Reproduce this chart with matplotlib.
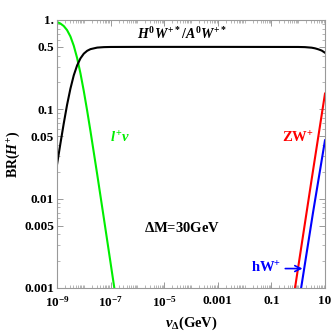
import matplotlib
matplotlib.use("Agg")
import matplotlib.pyplot as plt
from matplotlib.ticker import FixedLocator, LogLocator, NullFormatter

plt.rcParams['font.family'] = 'Liberation Serif'
plt.rcParams['font.weight'] = 'bold'
plt.rcParams['axes.labelweight'] = 'bold'
plt.rcParams['mathtext.fontset'] = 'custom'
plt.rcParams['mathtext.rm'] = 'Liberation Serif:bold'
plt.rcParams['mathtext.bf'] = 'Liberation Serif:bold'
plt.rcParams['mathtext.it'] = 'Liberation Serif:italic:bold'

# l+ nu branching ratio
v_lnu = [1e-9, 10**-8.875, 10**-8.75, 10**-8.625, 10**-8.5, 10**-8.375, 10**-8.25, 10**-8.125, 10**-8,
         10**-7.875, 10**-7.75, 10**-7.625, 10**-7.5, 10**-7.25, 10**-7, 10**-6.85]
br_lnu = [0.95, 0.914, 0.857, 0.771, 0.655, 0.516, 0.376, 0.253, 0.160,
          0.0967, 0.0567, 0.0326, 0.0187, 0.00599, 0.0019, 0.00095]

# H0 W+* / A0 W+*
v_hw = [1e-9, 10**-8.875, 10**-8.75, 10**-8.625, 10**-8.5, 10**-8.375, 10**-8.25, 10**-8.125, 10**-8,
        10**-7.875, 10**-7.75, 10**-7.5, 10**-7.25, 10**-7, 1e-6, 1e-3, 1.0,
        10**0.25, 10**0.5, 10**0.625, 10**0.75, 10**0.875, 10.0]
br_hw = [0.024, 0.041, 0.069, 0.112, 0.170, 0.240, 0.310, 0.372, 0.420,
         0.452, 0.472, 0.491, 0.497, 0.499, 0.5, 0.5, 0.499,
         0.497, 0.49, 0.482, 0.47, 0.455, 0.43]

# Z W+
v_zw = [10**-0.15, 10**0.5, 10.0]
br_zw = [0.00087, 0.0163, 0.15]

# h W+
v_hwp = [10**0.08, 10**0.55, 10.0]
br_hwp = [0.00088, 0.0069, 0.045]

yticks = [0.001, 0.005, 0.01, 0.05, 0.1, 0.5, 1.0]
ylabels = ['0.001', '0.005', '0.01', '0.05', '0.1', '0.5', '1.']
xticks = [1e-9, 1e-7, 1e-5, 1e-3, 0.1, 10]
xlabels = [r'$\mathregular{10^{-9}}$', r'$\mathregular{10^{-7}}$', r'$\mathregular{10^{-5}}$',
           '0.001', '0.1', '10']

fig = plt.figure(figsize=(3.32, 3.33), dpi=100)
ax = fig.add_axes([57/332, 45/333, 268/332, 268/333])

ax.plot(v_lnu, br_lnu, color='#00ee00', lw=1.5)
ax.plot(v_hw, br_hw, color='black', lw=1.5)
ax.plot(v_zw, br_zw, color='#ff0000', lw=1.5)
ax.plot(v_hwp, br_hwp, color='#0000ff', lw=1.5)

ax.set_xscale('log')
ax.set_yscale('log')
ax.set_xlim(1e-9, 10)
ax.set_ylim(0.001, 1.0)

ax.yaxis.set_major_locator(FixedLocator(yticks))
ax.set_yticklabels(ylabels, fontweight='bold')
ax.xaxis.set_major_locator(FixedLocator(xticks))
ax.set_xticklabels(xlabels, fontweight='bold')
ax.xaxis.set_minor_locator(LogLocator(base=10, subs=range(1, 10), numticks=30))
ax.yaxis.set_minor_locator(LogLocator(base=10, subs=range(1, 10), numticks=30))
ax.xaxis.set_minor_formatter(NullFormatter())
ax.yaxis.set_minor_formatter(NullFormatter())

for s in ax.spines.values():
    s.set_color('#999999')
    s.set_linewidth(0.8)
ax.tick_params(which='both', direction='in', top=True, right=True, color='#999999',
               labelsize=9.5)
ax.tick_params(axis='y', pad=2)
ax.tick_params(axis='x', pad=5)
ax.tick_params(which='major', length=4, width=0.7)
ax.tick_params(which='minor', length=2, width=0.5)

ax.set_ylabel(r'BR($\mathit{H}^{+}$)', fontsize=10, labelpad=2, fontweight='bold')
ax.set_xlabel(r'$\mathit{\nu}_{\Delta}$(GeV)', fontsize=10.5, labelpad=4, fontweight='bold')

ax.text(10**-4.34, 0.69, r'$\mathit{H^{0}W^{+*}/A^{0}W^{+*}}$', fontsize=10, ha='center', va='center')
ax.text(10**-6.65, 0.048, r'$\mathit{l^{+}\nu}$', color='#00ee00', fontsize=10.5, ha='center', va='center')
ax.text(10**-0.02, 0.048, r'ZW$^{+}$', color='#ff0000', fontsize=10.5, ha='center', va='center',
        fontweight='bold')
ax.text(10**-4.34, 0.0047, r'$\Delta$M=30GeV', fontsize=10.5, ha='center', va='center',
        fontweight='bold')
ax.annotate(r'hW$^{+}$', xy=(10**0.16, 0.00165), xytext=(10**-1.2, 0.00165),
            color='#0000ff', fontsize=10.5, ha='center', va='center', fontweight='bold',
            arrowprops=dict(arrowstyle='->', color='#0000ff', lw=1.2, shrinkA=1, shrinkB=0))

fig.savefig('out.png', dpi=100)
